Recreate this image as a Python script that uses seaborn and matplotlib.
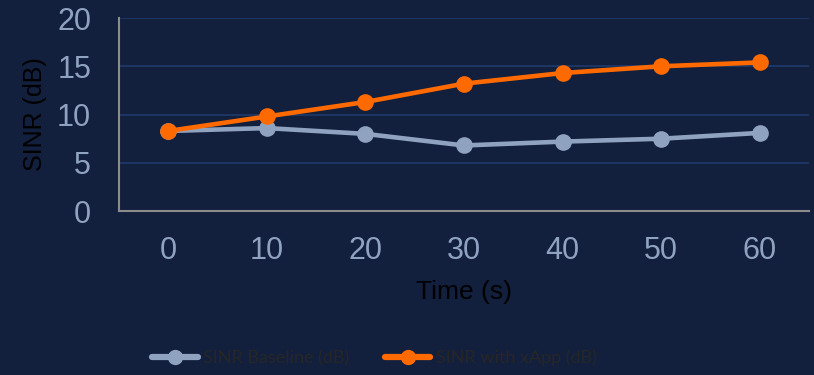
import numpy as np
import pandas as pd
import seaborn as sns
import matplotlib.pyplot as plt
from matplotlib.ticker import FixedLocator

# Values
time_s = [0, 10, 20, 30, 40, 50, 60]
sinr_baseline = [8.3, 8.6, 8.0, 6.8, 7.2, 7.5, 8.1]
sinr_xapp = [8.3, 9.8, 11.3, 13.2, 14.3, 15.0, 15.4]
series_names = ['SINR Baseline (dB)', 'SINR with xApp (dB)']

bg = '#121f3d'
grid_col = '#1f3a6a'
tick_col = '#8fa3c0'
axis_col = '#8c8c8c'
palette = {'SINR Baseline (dB)': '#8fa3c0', 'SINR with xApp (dB)': '#ff6a00'}

df = pd.DataFrame({
    'pos': list(range(len(time_s))) * 2,
    'value': sinr_baseline + sinr_xapp,
    'series': [series_names[0]] * len(time_s) + [series_names[1]] * len(time_s),
})

sns.set_style('white')
plt.rcParams['font.family'] = ['Liberation Sans', 'DejaVu Sans']

fig = plt.figure(figsize=(8.14, 3.75), dpi=100, facecolor=bg)
ax = fig.add_axes([0.146, 0.437, 0.848, 0.515])
ax.set_facecolor(bg)

sns.lineplot(data=df, x='pos', y='value', hue='series', palette=palette,
             marker='o', markersize=12, markeredgewidth=0, linewidth=3.3,
             ax=ax, legend=True)

ax.set_xlim(-0.5, len(time_s) - 0.5)
ax.set_ylim(0, 20)
ax.set_xticks(range(len(time_s)))
ax.set_xticklabels([str(t) for t in time_s])
ax.xaxis.set_minor_locator(FixedLocator(np.arange(-0.5, len(time_s), 1.0)))
ax.tick_params(axis='x', which='major', length=0, pad=18, labelsize=22, labelcolor=tick_col)
ax.tick_params(axis='x', which='minor', length=5, width=1.5, color=axis_col, direction='out')
ax.set_yticks([0, 5, 10, 15, 20])
ax.tick_params(axis='y', length=6, width=1.5, color=axis_col, direction='out', pad=14,
               labelsize=22, labelcolor=tick_col)

ax.yaxis.grid(True, color=grid_col, linewidth=1.2)
ax.xaxis.grid(False)
for side in ['top', 'right']:
    ax.spines[side].set_visible(False)
for side in ['left', 'bottom']:
    ax.spines[side].set_color(axis_col)
    ax.spines[side].set_linewidth(1.5)

ax.set_xlabel('Time (s)', fontsize=19, color='black', labelpad=10)
ax.set_ylabel('SINR (dB)', fontsize=18, color='black', labelpad=7)

handles, labels = ax.get_legend_handles_labels()
leg = fig.legend(handles, labels, loc='center', bbox_to_anchor=(0.46, 0.045), ncol=2,
                 frameon=False, prop={'family': ['Lato', 'DejaVu Sans'], 'size': 13},
                 handlelength=2.5, columnspacing=2.0, handletextpad=0.3)
for h in leg.legend_handles:
    h.set_linewidth(4.5)
    h.set_markersize(11)
ax.get_legend().remove()

fig.savefig('out.png', dpi=100, facecolor=bg)
